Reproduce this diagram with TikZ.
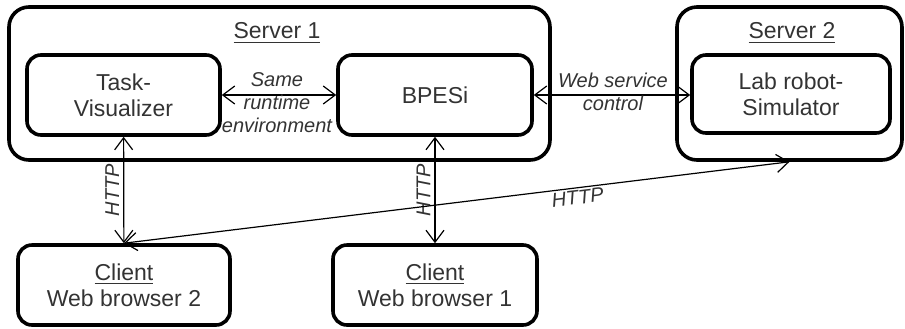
\documentclass[tikz,border=0pt]{standalone}
\usepackage{fontspec}
\setmainfont{Liberation Sans}
\usetikzlibrary{positioning,arrows.meta}

\begin{document}
\begin{tikzpicture}[
  x=0.5pt, y=-0.5pt,
  font=\fontsize{11.5}{13}\selectfont,
  server/.style={draw, line width=1.8pt, rounded corners=10pt, inner sep=0pt},
  box/.style={draw, line width=1.8pt, rounded corners=7pt, align=center, text=black!80, inner sep=0pt},
  lbl/.style={font=\fontsize{10}{11.5}\selectfont\itshape, text=black!80, align=center, inner sep=1pt},
  arr/.style={{Straight Barb[length=6pt,width=9pt]}-{Straight Barb[length=6pt,width=9pt]}, line width=0.6pt}
]
\useasboundingbox (0,0) rectangle (905,328);

% servers
\node[server, minimum width=270.5pt, minimum height=76.5pt] (srv1) at (279.5,83.5) {};
\node[server, minimum width=112.5pt, minimum height=76.5pt] (srv2) at (789.5,83.5) {};
\node[text=black!80] (srv1lbl) at (277,33) {\underline{Server 1}};
\node[text=black!80] (srv2lbl) at (792,33) {\underline{Server 2}};

% components
\node[box, minimum width=96.5pt, minimum height=40pt] (taskvis) at (123.5,95) {Task-\\Visualizer};
\node[box, minimum width=97pt, minimum height=40pt] (bpesi) at (435,95) {BPESi};
\node[box, minimum width=99pt, minimum height=39pt] (labrobot) at (791,94) {Lab robot-\\Simulator};

% clients
\node[box, minimum width=106pt, minimum height=40pt] (client2) at (124,285) {\underline{Client}\\Web browser 2};
\node[box, minimum width=102pt, minimum height=40pt] (client1) at (435,285) {\underline{Client}\\Web browser 1};

% arrows
\draw[arr] (taskvis) -- (bpesi);
\node[lbl] (samert) at (277,103) {Same\\runtime\\environment};
\draw[arr] (bpesi.east) -- (bpesi.east -| labrobot.west);
\node[lbl] (wsctrl) at (613,92) {Web service\\control};
\draw[arr] (taskvis) -- node[lbl, midway, rotate=90, anchor=south, yshift=1pt] {HTTP} (client2);
\draw[arr] (bpesi) -- node[lbl, midway, rotate=90, anchor=south, yshift=1pt] {HTTP} (client1);
\draw[arr] (client2.north) -- node[lbl, pos=0.68, below, sloped] {HTTP} (srv2.south);

\end{tikzpicture}
\end{document}
